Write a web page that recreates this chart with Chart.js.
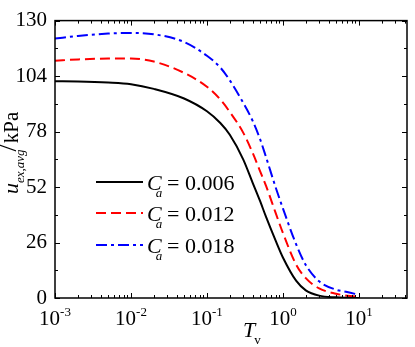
<!DOCTYPE html>
<html lang="en">
<head>
    <meta charset="UTF-8">
    <title>u_ex,avg vs Tv</title>
    <script src="https://cdn.jsdelivr.net/npm/chart.js"></script>
    <style>
        html, body {
            margin: 0;
            padding: 0;
            background: #fff;
        }
    </style>
</head>
<body>
    <canvas id="uChart" width="415" height="347"></canvas>

    <script>
        // time factor Tv (log axis)
        const tv = [0.001, 0.002, 0.005, 0.01, 0.02, 0.05, 0.1, 0.15, 0.2, 0.3, 0.4, 0.5, 0.6, 0.8, 1, 1.5, 2, 3, 5, 7, 10];

        // average excess pore pressure, kPa
        const ca006 = [101.6, 101.5, 101.0, 100.2, 98.0, 93.5, 87.5, 82.0, 76.5, 65.0, 54.0, 45.5, 38.0, 27.0, 19.0, 8.0, 3.6, 1.1, 0.3, 0.1, 0.0];
        const ca012 = [111.2, 111.8, 112.2, 112.2, 110.8, 105.5, 99.0, 93.0, 87.2, 77.5, 68.0, 59.5, 52.5, 40.0, 30.5, 15.5, 9.3, 4.5, 2.0, 1.1, 0.6];
        const ca018 = [121.6, 122.8, 123.9, 124.2, 123.6, 120.0, 113.5, 108.0, 102.0, 91.5, 83.0, 74.5, 66.0, 52.0, 42.0, 25.0, 15.5, 7.8, 3.9, 2.8, 1.5];

        const legendValues = ['0.006', '0.012', '0.018'];
        const xDecades = [-3, -2, -1, 0, 1];
        const yTicks = [0, 26, 52, 78, 104, 130];

        const serif = '"Liberation Serif", "Times New Roman", serif';
        const colors = ['#000000', '#ff0000', '#0000ff'];
        const dashes = [[], [10, 5], [11, 4, 3, 4]];

        function pts(ys) {
            return tv.map((t, i) => ({ x: t, y: ys[i] }));
        }

        // ticks, frame, axis labels and legend drawn on top
        const decorPlugin = {
            id: 'decor',
            afterDraw(chart) {
                const c = chart.ctx;
                const a = chart.chartArea;
                const xs = chart.scales.x;
                const ys = chart.scales.y;
                c.save();
                c.strokeStyle = '#000';
                c.fillStyle = '#000';

                // frame
                c.lineWidth = 1.5;
                c.strokeRect(a.left, a.top, a.right - a.left, a.bottom - a.top);

                // x ticks (inward, bottom and top)
                c.lineWidth = 1;
                for (let e = -3; e <= 2; e++) {
                    for (let m = 1; m <= 9; m++) {
                        const v = m * Math.pow(10, e);
                        if (v < xs.min - 1e-12 || v > xs.max) continue;
                        const px = Math.round(xs.getPixelForValue(v)) + 0.5;
                        const len = m === 1 ? 5 : 3;
                        c.beginPath();
                        c.moveTo(px, a.bottom);
                        c.lineTo(px, a.bottom - len);
                        c.moveTo(px, a.top);
                        c.lineTo(px, a.top + len);
                        c.stroke();
                    }
                }
                // y ticks (inward, left and right)
                for (let v = 0; v <= 130; v += 13) {
                    const py = Math.round(ys.getPixelForValue(v)) + 0.5;
                    const len = v % 26 === 0 ? 5 : 3;
                    c.beginPath();
                    c.moveTo(a.left, py);
                    c.lineTo(a.left + len, py);
                    c.moveTo(a.right, py);
                    c.lineTo(a.right - len, py);
                    c.stroke();
                }

                // x tick labels 10^n
                c.textBaseline = 'alphabetic';
                c.textAlign = 'left';
                xDecades.forEach(e => {
                    const px = xs.getPixelForValue(Math.pow(10, e));
                    const exp = String(e);
                    c.font = '21px ' + serif;
                    const w1 = c.measureText('10').width;
                    c.font = '13px ' + serif;
                    const w2 = c.measureText(exp).width;
                    const x0 = px - (w1 + w2) / 2;
                    c.font = '21px ' + serif;
                    c.fillText('10', x0, 325);
                    c.font = '13px ' + serif;
                    c.fillText(exp, x0 + w1, 316);
                });

                // x title T_v
                c.font = 'italic 22px ' + serif;
                c.fillText('T', 243, 337);
                const wT = c.measureText('T').width;
                c.font = '13px ' + serif;
                c.fillText('v', 243 + wT - 1, 344);

                // y title u_ex,avg / kPa
                c.save();
                c.translate(18, 194);
                c.rotate(-Math.PI / 2);
                c.font = 'italic 22px ' + serif;
                c.fillText('u', 0, 0);
                let off = c.measureText('u').width;
                c.font = 'italic 13px ' + serif;
                c.fillText('ex,avg', off, 6);
                off += c.measureText('ex,avg').width - 2;
                c.font = '26px ' + serif;
                c.fillText('/', off, -2);
                off += c.measureText('/').width + 1;
                c.font = '21px ' + serif;
                c.fillText('kPa', off, 0);
                c.restore();

                // legend
                const rowsY = [182, 213, 245];
                rowsY.forEach((y, i) => {
                    c.save();
                    c.strokeStyle = colors[i];
                    c.lineWidth = 2.2;
                    c.setLineDash(dashes[i]);
                    c.beginPath();
                    c.moveTo(96, y);
                    c.lineTo(143, y);
                    c.stroke();
                    c.restore();
                    c.font = 'italic 22px ' + serif;
                    c.fillText('C', 147, y + 8);
                    const wc = c.measureText('C').width;
                    c.font = 'italic 13px ' + serif;
                    c.fillText('a', 147 + wc - 6, y + 15);
                    c.font = '22px ' + serif;
                    c.fillText('= ' + legendValues[i], 167, y + 8);
                });
                c.restore();
            }
        };

        const ctx = document.getElementById('uChart').getContext('2d');
        new Chart(ctx, {
            type: 'line',
            data: {
                datasets: [
                    { label: 'Ca = 0.006', data: pts(ca006), borderColor: colors[0], borderDash: dashes[0] },
                    { label: 'Ca = 0.012', data: pts(ca012), borderColor: colors[1], borderDash: dashes[1] },
                    { label: 'Ca = 0.018', data: pts(ca018), borderColor: colors[2], borderDash: dashes[2] }
                ]
            },
            options: {
                responsive: false,
                animation: false,
                devicePixelRatio: 1,
                layout: { padding: { top: 10, right: 8, left: 0, bottom: 0 } },
                elements: {
                    point: { radius: 0 },
                    line: { borderWidth: 2, cubicInterpolationMode: 'monotone', fill: false }
                },
                plugins: {
                    legend: { display: false },
                    tooltip: { enabled: false }
                },
                scales: {
                    x: {
                        type: 'logarithmic',
                        min: 0.001,
                        max: 43,
                        grid: { display: false },
                        border: { display: false },
                        ticks: { display: false },
                        afterFit(scale) { scale.height = 49; }
                    },
                    y: {
                        min: 0,
                        max: 130,
                        grid: { display: false, drawTicks: false },
                        border: { display: false },
                        afterBuildTicks(scale) {
                            scale.ticks = yTicks.map(v => ({ value: v }));
                        },
                        ticks: {
                            color: '#000',
                            padding: 8,
                            font: { family: serif, size: 21 }
                        },
                        afterFit(scale) { scale.width = 55; }
                    }
                }
            },
            plugins: [decorPlugin]
        });
    </script>
</body>
</html>
